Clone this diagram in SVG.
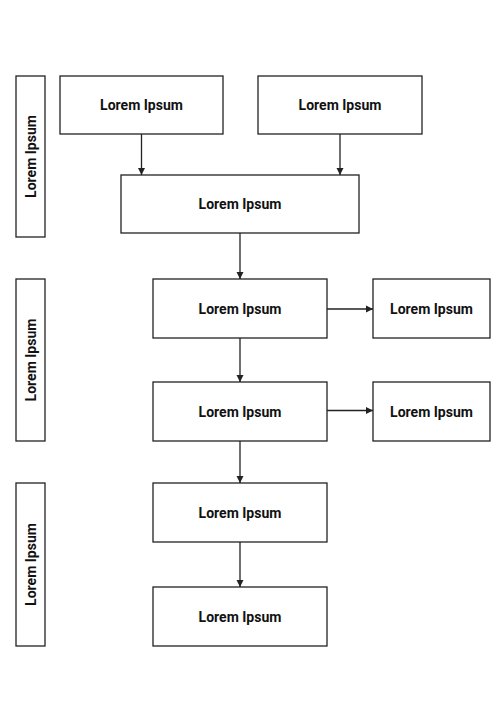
<svg xmlns="http://www.w3.org/2000/svg" width="504" height="720" viewBox="0 0 504 720">
<style>
.box{fill:#fff;stroke:#222;stroke-width:1.3}
.t{font-family:Roboto,"Liberation Sans",sans-serif;font-weight:bold;font-size:14px;fill:#111;text-anchor:middle}
.c{stroke:#222;stroke-width:1.3;fill:none}
</style>
<defs>
<marker id="ah" markerWidth="8" markerHeight="8" refX="7" refY="4" orient="auto" markerUnits="userSpaceOnUse">
<path d="M0,0.5 L7,4 L0,7.5 Z" fill="#222"/>
</marker>
</defs>
<rect width="504" height="720" fill="#fff"/>
<g id="band1"><rect class="box" x="16" y="76" width="29" height="161"/><text class="t" transform="translate(35.5,156.5) rotate(-90)">Lorem Ipsum</text></g>
<g id="band2"><rect class="box" x="16" y="279" width="29" height="162"/><text class="t" transform="translate(35.5,360) rotate(-90)">Lorem Ipsum</text></g>
<g id="band3"><rect class="box" x="16" y="483" width="29" height="163"/><text class="t" transform="translate(35.5,564.5) rotate(-90)">Lorem Ipsum</text></g>
<g id="n1"><rect class="box" x="60" y="76" width="163" height="58"/><text class="t" x="141.5" y="110">Lorem Ipsum</text></g>
<g id="n2"><rect class="box" x="258" y="76" width="164" height="58"/><text class="t" x="340" y="110">Lorem Ipsum</text></g>
<g id="n3"><rect class="box" x="121" y="175" width="238" height="58"/><text class="t" x="240" y="209">Lorem Ipsum</text></g>
<g id="n4"><rect class="box" x="153" y="279" width="174" height="59"/><text class="t" x="240" y="313.5">Lorem Ipsum</text></g>
<g id="n5"><rect class="box" x="373" y="279" width="117" height="59"/><text class="t" x="431.5" y="313.5">Lorem Ipsum</text></g>
<g id="n6"><rect class="box" x="153" y="382" width="174" height="59"/><text class="t" x="240" y="416.5">Lorem Ipsum</text></g>
<g id="n7"><rect class="box" x="373" y="382" width="117" height="59"/><text class="t" x="431.5" y="416.5">Lorem Ipsum</text></g>
<g id="n8"><rect class="box" x="153" y="483" width="174" height="59"/><text class="t" x="240" y="517.5">Lorem Ipsum</text></g>
<g id="n9"><rect class="box" x="153" y="587" width="174" height="59"/><text class="t" x="240" y="621.5">Lorem Ipsum</text></g>
<g id="connectors">
<line class="c" x1="141.5" y1="134" x2="141.5" y2="175" marker-end="url(#ah)"/>
<line class="c" x1="340" y1="134" x2="340" y2="175" marker-end="url(#ah)"/>
<line class="c" x1="240" y1="233" x2="240" y2="279" marker-end="url(#ah)"/>
<line class="c" x1="240" y1="338" x2="240" y2="382" marker-end="url(#ah)"/>
<line class="c" x1="240" y1="441" x2="240" y2="483" marker-end="url(#ah)"/>
<line class="c" x1="240" y1="542" x2="240" y2="587" marker-end="url(#ah)"/>
<line class="c" x1="327" y1="309" x2="373" y2="309" marker-end="url(#ah)"/>
<line class="c" x1="327" y1="410.5" x2="373" y2="410.5" marker-end="url(#ah)"/>
</g>
</svg>
